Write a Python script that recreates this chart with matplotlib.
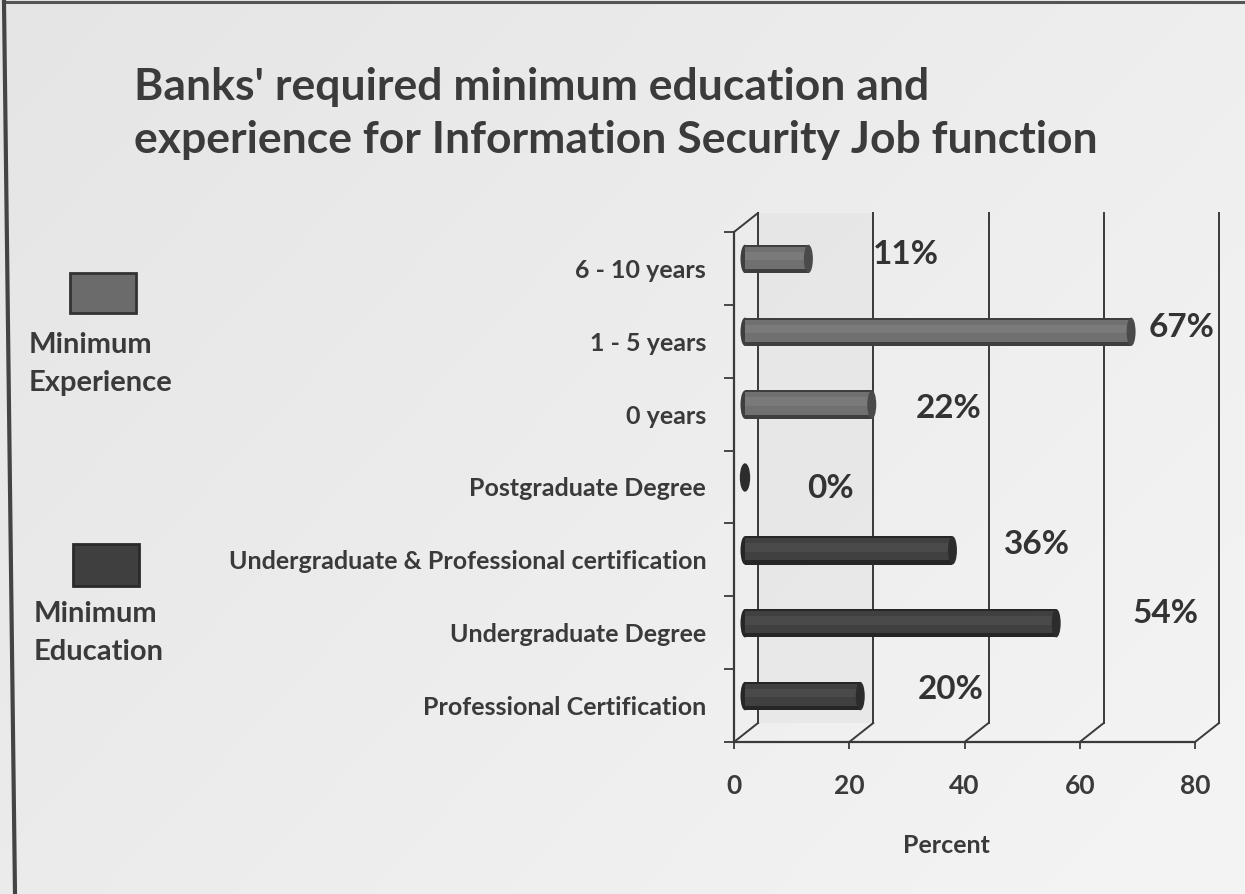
import numpy as np
import matplotlib
matplotlib.use("Agg")
import matplotlib.pyplot as plt
from matplotlib.patches import Ellipse, Rectangle
from matplotlib.lines import Line2D

plt.rcParams['font.family'] = ['Lato', 'DejaVu Sans']
plt.rcParams['font.weight'] = 'bold'
plt.rcParams['axes.labelweight'] = 'bold'

# ---- data -------------------------------------------------------------
categories = ["Professional Certification",
              "Undergraduate Degree",
              "Undergraduate & Professional certification",
              "Postgraduate Degree",
              "0 years",
              "1 - 5 years",
              "6 - 10 years"]
percent = [20, 54, 36, 0, 22, 67, 11]
group = ["Education", "Education", "Education", "Education",
         "Experience", "Experience", "Experience"]
xticks = [0, 20, 40, 60, 80]

# value-label placement (pixels from the bar's front end / row centre)
label_shift = [(101, 16), (120, 19), (95, 15), (96, -1), (88, 6), (61, 14), (108, 14)]

W, H = 1245, 894
fig = plt.figure(figsize=(W / 100, H / 100), dpi=100)
fig.patch.set_facecolor('#ebebeb')

# full-figure overlay in pixel units for the paper, frame and legend
bg = fig.add_axes([0, 0, 1, 1])
bg.set_xlim(0, W)
bg.set_ylim(H, 0)
bg.axis('off')
gx, gy = np.meshgrid(np.linspace(0, 1, 200), np.linspace(0, 1, 150))
shade = 0.895 + 0.06 * (0.6 * gx + 0.4 * gy)
bg.imshow(shade, cmap='gray', vmin=0, vmax=1, extent=(0, W, H, 0),
          aspect='auto', interpolation='bilinear', zorder=0)
bg.add_line(Line2D([4, W], [2, 2], color='#555555', lw=2.2))
bg.add_line(Line2D([4, 15], [2, H], color='#444444', lw=3))

# title
bg.text(134, 67, "Banks' required minimum education and\n"
                 "experience for Information Security Job function",
        fontsize=32, color='#3b3b3b', va='top', ha='left', linespacing=1.4)

# legend
colors = {"Experience": dict(body='#707070', hi='#7a7a7a', edge='#3e3e3e', cap='#4a4a4a'),
          "Education": dict(body='#404040', hi='#4a4a4a', edge='#262626', cap='#2c2c2c')}
bg.add_patch(Rectangle((70, 273), 66, 40, facecolor='#6b6b6b',
                       edgecolor='#333333', lw=2, zorder=3))
bg.add_patch(Rectangle((73, 544), 66, 42, facecolor='#3f3f3f',
                       edgecolor='#2a2a2a', lw=2, zorder=3))
bg.text(29, 332, "Minimum\nExperience", fontsize=21, color='#3a3a3a',
        va='top', ha='left', linespacing=1.55)
bg.text(34, 601, "Minimum\nEducation", fontsize=21, color='#3a3a3a',
        va='top', ha='left', linespacing=1.55)

# ---- pseudo-3D bar chart ----------------------------------------------
x0, x1, ybot, ytop = 734, 1195, 742, 232
ax = fig.add_axes([x0 / W, (H - ybot) / H, (x1 - x0) / W, (ybot - ytop) / H])
ax.set_facecolor('none')
ax.set_xlim(0, 80)
ax.set_ylim(-0.5, len(categories) - 0.5)

px_x = (x1 - x0) / 80.0
px_y = (ybot - ytop) / len(categories)
ddx, ddy = 24 / px_x, 19 / px_y          # depth of the back wall
mdx, mdy = 11 / px_x, 9.5 / px_y         # bars sit mid-depth
lo, hi = -0.5, len(categories) - 0.5

# faint back-wall tint near the origin
ax.add_patch(Rectangle((ddx, lo + ddy), 20, hi - lo, facecolor='#e2e2e2',
                       edgecolor='none', zorder=0, clip_on=False, alpha=0.5))

line_kw = dict(color='#3a3a3a', lw=1.4, clip_on=False, zorder=2)
for v in xticks:
    ax.plot([v + ddx, v + ddx], [lo + ddy, hi + ddy], **line_kw)
    ax.plot([v, v + ddx], [lo, lo + ddy], **line_kw)
ax.plot([0, ddx], [hi, hi + ddy], **line_kw)

# front axes
for s in ['top', 'right']:
    ax.spines[s].set_visible(False)
for s in ['left', 'bottom']:
    ax.spines[s].set_color('#3a3a3a')
    ax.spines[s].set_linewidth(1.6)

ypos = np.arange(len(categories))
ax.set_yticks(ypos)
ax.set_yticklabels(categories, fontsize=18, color='#3a3a3a')
ax.set_yticks(np.arange(len(categories) + 1) - 0.5, minor=True)
ax.tick_params(axis='y', which='major', length=0, pad=20)
ax.tick_params(axis='y', which='minor', length=7, width=1.3, color='#3a3a3a')
ax.set_xticks(xticks)
ax.set_xticklabels([str(v) for v in xticks], fontsize=19, color='#3a3a3a')
ax.tick_params(axis='x', length=5, width=1.3, color='#3a3a3a', pad=18)
ax.set_xlabel("Percent", fontsize=18, color='#3a3a3a')
ax.xaxis.set_label_coords((946 - x0) / (x1 - x0), -0.18)

# cylinders
bh = 0.39
capw = 9 / px_x
for yi, val, g in zip(ypos, percent, group):
    c = colors[g]
    yc = yi + mdy
    xs = mdx
    if val > 0:
        ax.barh(yc, val, left=xs, height=bh, color=c['edge'], zorder=3, clip_on=False)
        ax.barh(yc + 0.015, val, left=xs, height=bh * 0.78, color=c['body'], zorder=3, clip_on=False)
        ax.barh(yc + 0.04, val, left=xs, height=bh * 0.3, color=c['hi'], zorder=3, clip_on=False)
        ax.add_patch(Ellipse((xs, yc), capw, bh, facecolor=c['edge'],
                             edgecolor='none', zorder=2.9, clip_on=False))
    ax.add_patch(Ellipse((xs + val, yc), capw * (1.15 if val == 0 else 1), bh,
                         facecolor=c['cap'], edgecolor='none', zorder=3.1, clip_on=False))

# value labels
for yi, val, (sx, sy) in zip(ypos, percent, label_shift):
    ax.annotate(f"{val}%", xy=(val, yi), xytext=(sx, sy), textcoords='offset pixels',
                ha='center', va='center', fontsize=24, color='#333333', zorder=5)

fig.savefig("out.png", dpi=100, facecolor=fig.get_facecolor())
